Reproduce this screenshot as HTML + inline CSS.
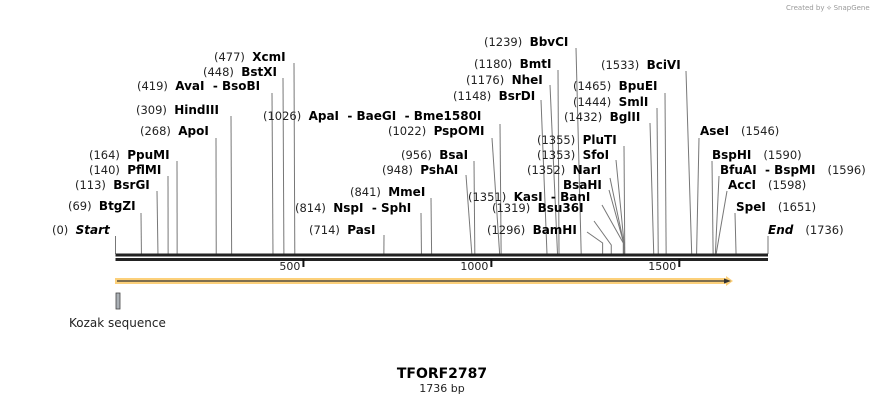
<!DOCTYPE html>
<html><head><meta charset="utf-8"><style>
body{margin:0;background:#fff;width:884px;height:404px;overflow:hidden}
svg{display:block;font-family:"DejaVu Sans","Liberation Sans",sans-serif}
.n{font-size:11.5px;fill:#222}
.b{font-size:12px;font-weight:bold;fill:#000}
</style></head><body>
<svg id="map" width="884" height="404" viewBox="0 0 884 404">
<text x="786" y="10" font-size="7" fill="#999">Created by ⟡ SnapGene</text>
<g id="sites"></g>
<rect x="115.5" y="253.5" width="652.5" height="3" fill="#222"/>
<rect x="115.5" y="258" width="652.5" height="3" fill="#222"/>
<g id="ticks"></g>
<g>
<polygon points="115,278 726,278 726,276 733,281 726,286 726,284 115,284" fill="#fcd07a"/>
<line x1="117" y1="281" x2="727" y2="281" stroke="#333" stroke-width="1.2"/>
<polygon points="724,278.5 731,281 724,283.5" fill="#333"/>
</g>
<rect x="116" y="293" width="4" height="16" fill="#aab0b5" stroke="#444" stroke-width="0.8"/>
<text x="69" y="327" font-size="12" fill="#222">Kozak sequence</text>
<text x="442" y="378" text-anchor="middle" font-size="14" font-weight="bold" fill="#000">TFORF2787</text>
<text x="442" y="392" text-anchor="middle" font-size="11" fill="#222">1736 bp</text>
</svg>
<script>
const seqLength = 1736;
const sitePositions = [0,69,113,140,164,268,309,419,448,477,714,814,841,948,956,1022,1026,1148,1176,1180,1239,1296,1319,1351,1352,1352,1353,1355,1432,1444,1465,1533,1546,1590,1596,1598,1651,1736];
const siteNames = ["Start","BtgZI","BsrGI","PflMI","PpuMI","ApoI","HindIII","AvaI  - BsoBI","BstXI","XcmI","PasI","NspI  - SphI","MmeI","PshAI","BsaI","PspOMI","ApaI  - BaeGI  - Bme1580I","BsrDI","NheI","BmtI","BbvCI","BamHI","Bsu36I","KasI  - BanI","NarI","BsaHI","SfoI","PluTI","BglII","SmlI","BpuEI","BciVI","AseI","BspHI","BfuAI  - BspMI","AccI","SpeI","End"];
const tickValues = [500,1000,1500];
// layout: [labelX, labelY, lineTopX, lineTopY, numberRight, showNumber, elbowY]
const layout = [
[52,234,115.5,236,0,1],[68,210,141,213,0,1],[75,189,157,191,0,1],[89,174,168,176,0,1],[89,159,177,161,0,1],
[140,135,216,138,0,1],[136,114,231,116,0,1],[137,90,272,93,0,1],[203,76,283,78,0,1],[214,61,294,63,0,1],
[309,234,384,235,0,1],[295,212,421,213,0,1],[350,196,431,198,0,1],[382,174,466,175,0,1],[401,159,474,161,0,1],
[388,135,492,138,0,1],[263,120,500,124,0,1],[453,100,541,100,0,1],[466,84,550,85,0,1],[474,68,558,70,0,1],
[484,46,576,48,0,1],[487,234,587,232,0,1,243],[492,212,594,221,0,1,245],[468,201,602,205,0,1,243],[527,174,610,178,0,1,243],
[563,189,609,190,0,0,243],[537,159,616,160,0,1,243],[537,144,624,146,0,1],[564,121,650,123,0,1],[573,106,657,108,0,1],
[573,90,665,93,0,1],[601,69,686,71,0,1],[700,135,699,138,1,1],[712,159,712,161,1,1],[720,174,719,176,1,1],
[728,189,727,191,1,1],[736,211,735,213,1,1],[768,234,768,236,1,1]
];
const ns="http://www.w3.org/2000/svg";
const x0=115.5,x1=768;
function xScale(p){return x0+(x1-x0)*p/seqLength;}
const sites=document.getElementById('sites');
function mk(tag,attrs,parent){const e=document.createElementNS(ns,tag);for(const k in attrs)e.setAttribute(k,attrs[k]);parent.appendChild(e);return e;}
sitePositions.forEach((p,i)=>{
  const L=layout[i];const name=siteNames[i];
  const g=mk('g',{},sites);
  
  
  const sx=xScale(p);
  let pts;
  if(L[6]) pts=`${L[2]},${L[3]} ${sx},${L[6]} ${sx},254`;
  else pts=`${L[2]},${L[3]} ${sx},254`;
  mk('polyline',{points:pts,fill:'none',stroke:'#777','stroke-width':1},g);
  const t=mk('text',{x:L[0],y:L[1]},g);
  const num='('+p+')';
  const italic=(name==='Start'||name==='End');
  if(L[4]===0){
    if(L[5]){const a=mk('tspan',{class:'n'},t);a.textContent=num+'  ';}
    const b=mk('tspan',{class:'b'},t);b.textContent=name;if(italic)b.setAttribute('font-style','italic');
  } else {
    const b=mk('tspan',{class:'b'},t);b.textContent=name;if(italic)b.setAttribute('font-style','italic');
    const a=mk('tspan',{class:'n',dx:12},t);a.textContent=num;
  }
  t.setAttribute('style','white-space:pre');
});
const ticks=document.getElementById('ticks');
tickValues.forEach(v=>{
  const x=xScale(v);
  const r=mk('rect',{x:x-1,y:259,width:2,height:8,fill:'#111'},ticks);
  
  
  const t=mk('text',{x:x-3,y:270,'text-anchor':'end','font-size':11,fill:'#222'},ticks);
  
  
  t.textContent=v;
});
</script>
</body></html>
